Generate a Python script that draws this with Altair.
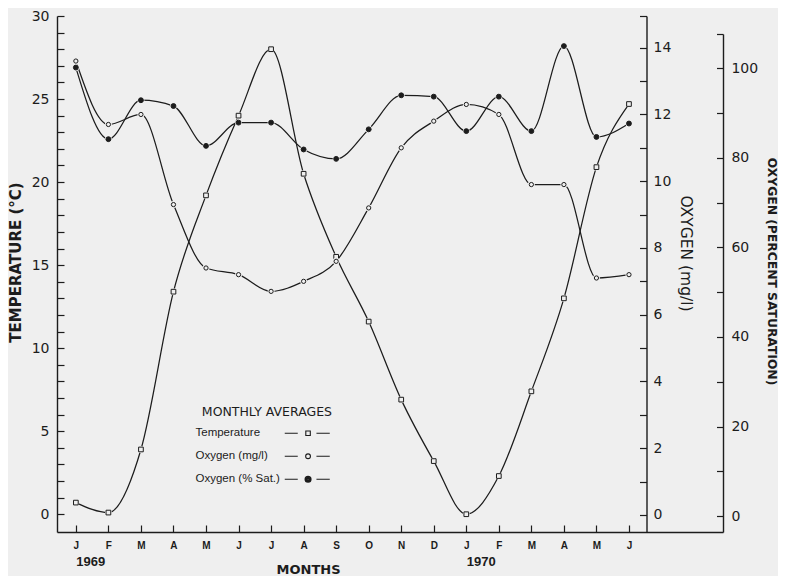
import json
import pandas as pd
import altair as alt

# ---------------- data ----------------
months = ["J", "F", "M", "A", "M", "J", "J", "A", "S", "O", "N", "D",
          "J", "F", "M", "A", "M", "J"]
years = ["1969", "1970"]
year_positions = [0, 12]
temperature = [0.7, 0.1, 3.9, 13.4, 19.2, 24.0, 28.0, 20.5, 15.5, 11.6,
               6.9, 3.2, 0.0, 2.3, 7.4, 13.0, 20.9, 24.7]
oxygen_mg = [13.6, 11.7, 12.0, 9.3, 7.4, 7.2, 6.7, 7.0, 7.6, 9.2,
             11.0, 11.8, 12.3, 12.0, 9.9, 9.9, 7.1, 7.2]
oxygen_sat = [100.2, 84.2, 92.9, 91.6, 82.7, 87.9, 87.9, 81.9, 79.8, 86.4,
              94.0, 93.7, 86.0, 93.7, 86.0, 105.0, 84.7, 87.7]
series_names = ["Temperature", "Oxygen (mg/l)", "Oxygen (% Sat.)"]

# ---------------- style ----------------
BG = "#efefef"
INK = "#1c1c1c"
W, H = 666, 516
NUM_FONT = "DejaVu Sans"
idx = list(range(len(months)))

df = pd.DataFrame({"m": idx, "temp": temperature, "mg": oxygen_mg, "sat": oxygen_sat})

x_scale = alt.Scale(domain=[-0.58, 19.89], nice=False, zero=False)

common_axis = dict(grid=False, tickColor=INK, domainColor=INK, tickWidth=1.2,
                   domainWidth=1.4, labelColor=INK, titleColor=INK,
                   labelOverlap=False, labelFlush=False, labelBound=False)

x_axis = alt.Axis(orient="top", offset=-H, values=idx,
                  labelExpr=f"{json.dumps(months)}[datum.value]",
                  tickSize=7, labelFont="Liberation Sans", labelFontWeight="bold",
                  labelFontSize=10, labelAlign="center", labelBaseline="top",
                  labelPadding=-15.5,
                  title="MONTHS", titleX=251, titleY=37, titleAngle=0,
                  titleAlign="center", titleBaseline="middle",
                  titleFont="DejaVu Sans", titleFontSize=13, titleFontWeight="bold",
                  **common_axis)

year_axis = alt.Axis(orient="top", offset=-H, values=year_positions,
                     labelExpr=f"{json.dumps(years)}[indexof({json.dumps(year_positions)}, datum.value)]",
                     ticks=False, domain=False, labelFont="Liberation Sans",
                     labelFontWeight="bold", labelFontSize=13, labelAlign="left",
                     labelBaseline="top", labelPadding=-23, title=None,
                     **common_axis)

temp_axis = alt.Axis(orient="right", offset=-W, values=list(range(0, 31)),
                     labelExpr="datum.value % 5 == 0 ? datum.label : ''",
                     tickSize=7, labelAlign="right", labelBaseline="middle",
                     labelPadding=-15, labelFont=NUM_FONT, labelFontSize=14,
                     title="TEMPERATURE (°C)", titleX=-42, titleY=246, titleAngle=270,
                     titleAlign="center", titleBaseline="middle",
                     titleFont="DejaVu Sans", titleFontSize=15, titleFontWeight="bold",
                     **common_axis)

mg_axis = alt.Axis(orient="left", offset=-589.5, values=list(range(0, 15)) + [14.95],
                   labelExpr="datum.value % 2 == 0 ? datum.label : ''",
                   tickSize=7, labelAlign="left", labelBaseline="middle",
                   labelPadding=-13.5, labelFont=NUM_FONT, labelFontSize=14,
                   title="OXYGEN (mg/l)", titleX=38.5, titleY=237, titleAngle=90,
                   titleAlign="center", titleBaseline="middle",
                   titleFont="DejaVu Sans", titleFontSize=15.5, titleFontWeight="normal",
                   **common_axis)

sat_axis = alt.Axis(orient="left", offset=-W, values=list(range(0, 101, 10)) + [107.7],
                    labelExpr="datum.value % 20 == 0 ? datum.label : ''",
                    tickSize=6.5, labelAlign="left", labelBaseline="middle",
                    labelPadding=-14.4, labelFont=NUM_FONT, labelFontSize=14,
                    title="OXYGEN (PERCENT SATURATION)", titleX=48, titleY=255,
                    titleAngle=90, titleAlign="center", titleBaseline="middle",
                    titleFont="DejaVu Sans", titleFontSize=12.3, titleFontWeight="bold",
                    **common_axis)

temp_scale = alt.Scale(domain=[-1.07, 30], nice=False, zero=False)
mg_scale = alt.Scale(domain=[-0.51, 14.95], nice=False, zero=False)
sat_scale = alt.Scale(domain=[-3.57, 107.7], range=[H, 18], nice=False, zero=False)


def series_layer(field, y_scale, y_axis, shape, marker_fill, marker_size, xa):
    base = alt.Chart(df).encode(
        x=alt.X("m:Q", scale=x_scale, axis=xa),
        y=alt.Y(f"{field}:Q", scale=y_scale, axis=y_axis),
    )
    line = base.mark_line(interpolate="monotone", color=INK, strokeWidth=1.25)
    halo = base.mark_point(shape="circle", filled=True, fill=BG, strokeWidth=0,
                           size=48, opacity=1)
    pts = base.mark_point(shape=shape, filled=True, fill=marker_fill, stroke=INK,
                          strokeWidth=1, size=marker_size, opacity=1)
    return alt.layer(line, halo, pts)


temp_layer = series_layer("temp", temp_scale, temp_axis, "square", BG, 22, x_axis)
mg_layer = series_layer("mg", mg_scale, mg_axis, "circle", BG, 18, None)
sat_layer = series_layer("sat", sat_scale, sat_axis, "circle", INK, 24, None)

# ---------------- legend (symbols drawn right of the labels) ----------------
# symbolSize 4 -> custom path drawn at 1 px per unit, centred 6 px right of the legend origin
def ring(cx, r):
    return f"M{cx - r:.2f},0A{r},{r} 0 1,0 {cx + r:.2f},0A{r},{r} 0 1,0 {cx - r:.2f},0Z"

mc = 118.3
dashes = "M95,0H108M126.7,0H140"
legend_paths = [
    dashes + f"M{mc - 2.25:.2f},-2.25H{mc + 2.25:.2f}V2.25H{mc - 2.25:.2f}Z",
    dashes + ring(mc, 2.4),
    dashes + ring(mc, 3.0) + ring(mc, 2.0) + ring(mc, 0.9),
]

legend_df = pd.DataFrame({"series": series_names, "m": [0] * len(series_names)})
legend_layer = alt.Chart(legend_df).transform_filter("false").mark_point(
    filled=False, stroke=INK, strokeWidth=1.1, opacity=1, size=4
).encode(
    x=alt.X("m:Q", scale=x_scale, axis=year_axis),
    shape=alt.Shape(
        "series:N",
        scale=alt.Scale(domain=series_names, range=legend_paths),
        legend=alt.Legend(
            orient="none", legendX=127, legendY=390, padding=0,
            title="MONTHLY AVERAGES", titleFont="DejaVu Sans",
            titleFontSize=12.5, titleFontWeight="normal", titleColor=INK,
            titlePadding=9, titleAnchor="end", titleAlign="right",
            labelFont="Liberation Sans", labelFontSize=11.5, labelColor=INK,
            labelOffset=0, rowPadding=10, symbolSize=4, symbolStrokeWidth=1.1,
            symbolStrokeColor=INK, symbolFillColor="transparent", symbolOpacity=1,
        ),
    ),
)

chart = alt.layer(temp_layer, mg_layer, sat_layer, legend_layer).resolve_scale(
    x="independent", y="independent"
).properties(
    width=W, height=H,
    autosize=alt.AutoSizeParams(type="none"),
    padding={"left": 49, "top": 8, "right": 55, "bottom": 44},
    background=BG,
).configure_view(strokeWidth=0)

chart.save("out.html", embed_options={"renderer": "svg", "actions": False})
